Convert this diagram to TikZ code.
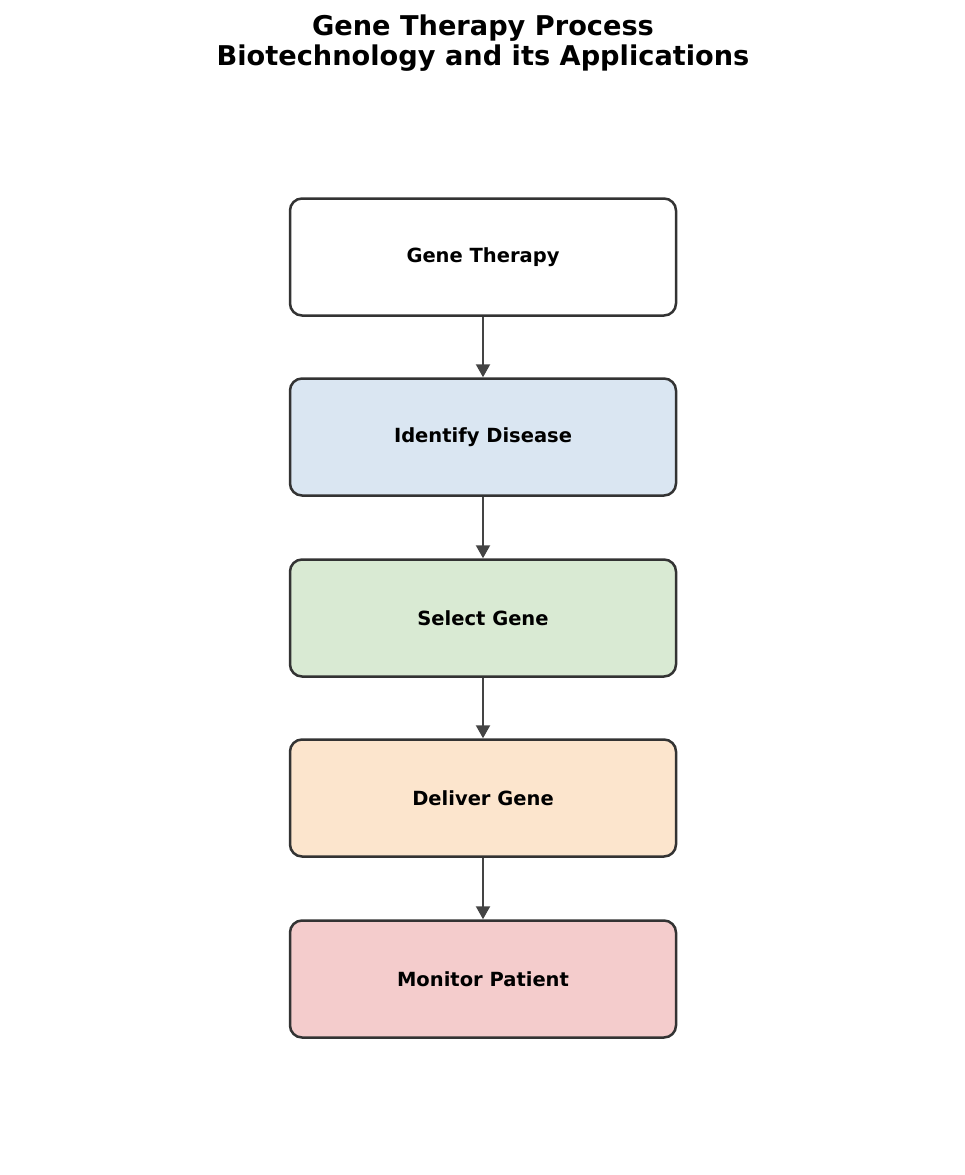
\documentclass[tikz,border=0pt]{standalone}
\usepackage{fontspec}
\setmainfont{DejaVu Sans}
\usetikzlibrary{arrows.meta}
\definecolor{edgegray}{HTML}{333333}
\definecolor{arrowgray}{HTML}{444444}
\definecolor{stepblue}{HTML}{DAE6F2}
\definecolor{stepgreen}{HTML}{D9EAD3}
\definecolor{steporange}{HTML}{FCE5CD}
\definecolor{steppink}{HTML}{F4CCCC}
\begin{document}
\begin{tikzpicture}[x=1pt,y=-1pt,
                    stepbox/.style={draw=edgegray,line width=2.5pt,rounded corners=12pt,
                                    minimum width=386pt,minimum height=117pt,inner sep=0pt,
                                    font=\fontsize{19.5}{23}\selectfont\bfseries},
                    flow/.style={draw=arrowgray,line width=2.2pt,
                                 -{Triangle[length=13pt,width=14pt]}}]
  % page frame, same proportions as the reference
  \useasboundingbox (0,0) rectangle (965,1175);
  \node[align=center,font=\fontsize{27.2}{30}\selectfont\bfseries] (title) at (483,43)
    {Gene Therapy Process\\Biotechnology and its Applications};
  % the five steps, top to bottom
  \node[stepbox,fill=white]      (gene)     at (483,257) {Gene Therapy};
  \node[stepbox,fill=stepblue]   (identify) at (483,437) {Identify Disease};
  \node[stepbox,fill=stepgreen]  (select)   at (483,618) {Select Gene};
  \node[stepbox,fill=steporange] (deliver)  at (483,798) {Deliver Gene};
  \node[stepbox,fill=steppink]   (monitor)  at (483,979) {Monitor Patient};
  \draw[flow] (gene)--(identify);
  \draw[flow] (identify)--(select);
  \draw[flow] (select)--(deliver);
  \draw[flow] (deliver)--(monitor);
\end{tikzpicture}
\end{document}
